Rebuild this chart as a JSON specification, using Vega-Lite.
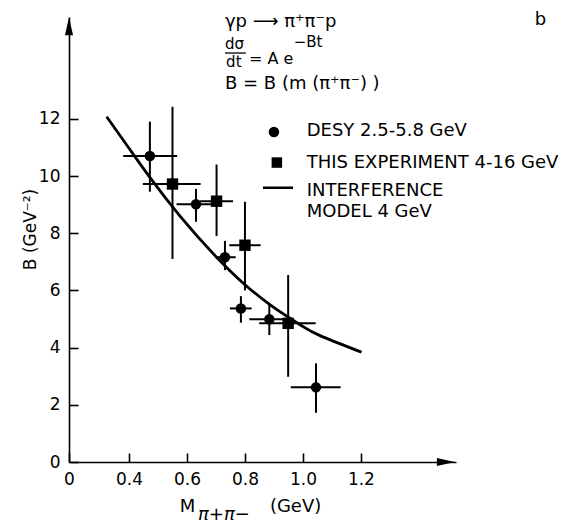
{
  "$schema": "https://vega.github.io/schema/vega-lite/v6.json",
  "width": 387,
  "height": 445,
  "autosize": "none",
  "padding": {"left": 69, "top": 17, "right": 118, "bottom": 61},
  "background": "white",
  "config": {
    "view": {"stroke": null},
    "font": "DejaVu Sans",
    "axis": {"grid": false, "domainColor": "black", "domainWidth": 1.6, "tickColor": "black", "tickWidth": 1.6, "tickSize": -9, "labelPadding": 18, "labelFont": "DejaVu Sans", "labelFontSize": 17, "labelColor": "black", "titleFont": "DejaVu Sans", "titleFontWeight": "normal", "titleColor": "black"}
  },
  "datasets": {
    "pts": [
      {"series": "DESY", "m": 0.472, "B": 10.7, "mlo": 0.38, "mhi": 0.566, "Blo": 9.45, "Bhi": 11.9},
      {"series": "DESY", "m": 0.631, "B": 9.01, "mlo": 0.564, "mhi": 0.70, "Blo": 8.4, "Bhi": 9.55},
      {"series": "DESY", "m": 0.731, "B": 7.16, "mlo": 0.697, "mhi": 0.768, "Blo": 6.71, "Bhi": 7.73},
      {"series": "DESY", "m": 0.786, "B": 5.37, "mlo": 0.748, "mhi": 0.823, "Blo": 4.87, "Bhi": 5.8},
      {"series": "DESY", "m": 0.884, "B": 4.99, "mlo": 0.815, "mhi": 0.95, "Blo": 4.44, "Bhi": 5.49},
      {"series": "DESY", "m": 1.045, "B": 2.61, "mlo": 0.958, "mhi": 1.13, "Blo": 1.72, "Bhi": 3.45},
      {"series": "THIS", "m": 0.55, "B": 9.72, "mlo": 0.448, "mhi": 0.647, "Blo": 7.1, "Bhi": 12.42},
      {"series": "THIS", "m": 0.702, "B": 9.12, "mlo": 0.645, "mhi": 0.759, "Blo": 7.9, "Bhi": 10.4},
      {"series": "THIS", "m": 0.80, "B": 7.58, "mlo": 0.746, "mhi": 0.854, "Blo": 6.0, "Bhi": 9.1},
      {"series": "THIS", "m": 0.949, "B": 4.85, "mlo": 0.849, "mhi": 1.044, "Blo": 2.98, "Bhi": 6.54}
    ],
    "curve": [
      {"m": 0.323, "B": 12.07},
      {"m": 0.40, "B": 10.97},
      {"m": 0.472, "B": 9.95},
      {"m": 0.576, "B": 8.6},
      {"m": 0.703, "B": 7.15},
      {"m": 0.800, "B": 6.2},
      {"m": 0.886, "B": 5.5},
      {"m": 0.944, "B": 5.1},
      {"m": 1.001, "B": 4.73},
      {"m": 1.059, "B": 4.42},
      {"m": 1.202, "B": 3.84}
    ]
  },
  "layer": [
    {
      "data": {"name": "pts"},
      "mark": {"type": "rule", "color": "black", "strokeWidth": 2},
      "encoding": {
        "x": {"field": "mlo", "type": "quantitative",
          "scale": {"domain": [0.193, 1.528], "nice": false, "zero": false},
          "axis": {"values": [0.193, 0.4, 0.6, 0.8, 1.0, 1.2], "labelExpr": "datum.value < 0.3 ? '0' : format(datum.value, '.1f')", "title": null, "labelFlush": false}},
        "x2": {"field": "mhi"},
        "y": {"field": "B", "type": "quantitative",
          "scale": {"domain": [0, 15.56], "nice": false, "zero": false},
          "axis": {"values": [0, 2, 4, 6, 8, 10, 12], "title": "B (GeV⁻²)", "titleFontSize": 17, "titleAngle": -90, "titleX": -39, "titleY": 212, "titleAlign": "center", "titleBaseline": "middle", "labelFlush": false}}
      }
    },
    {
      "data": {"name": "pts"},
      "mark": {"type": "rule", "color": "black", "strokeWidth": 2},
      "encoding": {
        "x": {"field": "m", "type": "quantitative"},
        "y": {"field": "Blo", "type": "quantitative"},
        "y2": {"field": "Bhi"}
      }
    },
    {
      "data": {"name": "pts"},
      "mark": {"type": "point", "filled": true, "color": "black", "opacity": 1},
      "encoding": {
        "x": {"field": "m", "type": "quantitative"},
        "y": {"field": "B", "type": "quantitative"},
        "shape": {"field": "series", "type": "nominal", "scale": {"domain": ["DESY", "THIS"], "range": ["circle", "square"]}, "legend": null},
        "size": {"field": "series", "type": "nominal", "scale": {"domain": ["DESY", "THIS"], "range": [110, 130]}, "legend": null}
      }
    },
    {
      "data": {"name": "curve"},
      "mark": {"type": "line", "color": "black", "strokeWidth": 2.8, "interpolate": "natural"},
      "encoding": {
        "x": {"field": "m", "type": "quantitative"},
        "y": {"field": "B", "type": "quantitative"}
      }
    },
    {
      "data": {"values": [{"m": 0.90, "B": 11.54, "s": "DESY"}, {"m": 0.91, "B": 10.47, "s": "THIS"}]},
      "mark": {"type": "point", "filled": true, "color": "black", "opacity": 1},
      "encoding": {
        "x": {"field": "m", "type": "quantitative"},
        "y": {"field": "B", "type": "quantitative"},
        "shape": {"field": "s", "type": "nominal", "scale": {"domain": ["DESY", "THIS"], "range": ["circle", "square"]}, "legend": null},
        "size": {"value": 110}
      }
    },
    {
      "data": {"values": [{"m": 0.862, "m2": 0.966, "B": 9.59}]},
      "mark": {"type": "rule", "color": "black", "strokeWidth": 2.5},
      "encoding": {
        "x": {"field": "m", "type": "quantitative"},
        "x2": {"field": "m2"},
        "y": {"field": "B", "type": "quantitative"}
      }
    },
    {
      "data": {"values": [
        {"m": 1.013, "B": 11.57, "t": "DESY 2.5-5.8 GeV"},
        {"m": 1.013, "B": 10.45, "t": "THIS EXPERIMENT 4-16 GeV"},
        {"m": 1.013, "B": 9.48, "t": "INTERFERENCE"},
        {"m": 1.013, "B": 8.75, "t": "MODEL  4 GeV"}
      ]},
      "mark": {"type": "text", "align": "left", "baseline": "middle", "fontSize": 18, "color": "black", "font": "DejaVu Sans"},
      "encoding": {
        "x": {"field": "m", "type": "quantitative"},
        "y": {"field": "B", "type": "quantitative"},
        "text": {"field": "t"}
      }
    },
    {
      "data": {"values": [
        {"m": 0.731, "B": 15.38, "t": "γp ⟶ π⁺π⁻p"},
        {"m": 1.80, "B": 15.45, "t": "b"},
        {"m": 0.731, "B": 13.22, "t": "B = B (m (π⁺π⁻) )"}
      ]},
      "mark": {"type": "text", "align": "left", "baseline": "middle", "fontSize": 18, "color": "black", "font": "DejaVu Sans"},
      "encoding": {
        "x": {"field": "m", "type": "quantitative"},
        "y": {"field": "B", "type": "quantitative"},
        "text": {"field": "t"}
      }
    },
    {
      "data": {"values": [{"m": 0.814, "B": 14.08, "t": "= A e"}]},
      "mark": {"type": "text", "align": "left", "baseline": "middle", "fontSize": 16, "color": "black", "font": "DejaVu Sans"},
      "encoding": {
        "x": {"field": "m", "type": "quantitative"},
        "y": {"field": "B", "type": "quantitative"},
        "text": {"field": "t"}
      }
    },
    {
      "data": {"values": [
        {"m": 0.731, "B": 14.63, "t": "dσ"},
        {"m": 0.735, "B": 13.97, "t": "dt"}
      ]},
      "mark": {"type": "text", "align": "left", "baseline": "middle", "fontSize": 15, "color": "black", "font": "DejaVu Sans"},
      "encoding": {
        "x": {"field": "m", "type": "quantitative"},
        "y": {"field": "B", "type": "quantitative"},
        "text": {"field": "t"}
      }
    },
    {
      "data": {"values": [{"m": 0.968, "B": 14.7, "t": "−Bt"}]},
      "mark": {"type": "text", "align": "left", "baseline": "middle", "fontSize": 15, "color": "black", "font": "DejaVu Sans"},
      "encoding": {
        "x": {"field": "m", "type": "quantitative"},
        "y": {"field": "B", "type": "quantitative"},
        "text": {"field": "t"}
      }
    },
    {
      "data": {"values": [{"m": 0.731, "m2": 0.803, "B": 14.3}]},
      "mark": {"type": "rule", "color": "black", "strokeWidth": 1.3},
      "encoding": {
        "x": {"field": "m", "type": "quantitative"},
        "x2": {"field": "m2"},
        "y": {"field": "B", "type": "quantitative"}
      }
    },
    {
      "data": {"values": [
        {"m": 0.575, "B": -1.58, "t": "M"},
        {"m": 0.886, "B": -1.58, "t": "(GeV)"}
      ]},
      "mark": {"type": "text", "align": "left", "baseline": "middle", "fontSize": 18, "color": "black", "font": "DejaVu Sans"},
      "encoding": {
        "x": {"field": "m", "type": "quantitative"},
        "y": {"field": "B", "type": "quantitative"},
        "text": {"field": "t"}
      }
    },
    {
      "data": {"values": [{"m": 0.638, "B": -1.85, "t": "π+π−"}]},
      "mark": {"type": "text", "align": "left", "baseline": "middle", "fontSize": 18, "fontStyle": "italic", "color": "black", "font": "DejaVu Sans"},
      "encoding": {
        "x": {"field": "m", "type": "quantitative"},
        "y": {"field": "B", "type": "quantitative"},
        "text": {"field": "t"}
      }
    },
    {
      "data": {"values": [{"m": 0.193, "B": 15.24}]},
      "mark": {"type": "point", "filled": true, "color": "black", "opacity": 1, "shape": "M0,-1L0.45,1L-0.45,1Z", "size": 324},
      "encoding": {
        "x": {"field": "m", "type": "quantitative"},
        "y": {"field": "B", "type": "quantitative"}
      }
    },
    {
      "data": {"values": [{"m": 1.493, "B": 0}]},
      "mark": {"type": "point", "filled": true, "color": "black", "opacity": 1, "shape": "M1,0L-1,0.45L-1,-0.45Z", "size": 324},
      "encoding": {
        "x": {"field": "m", "type": "quantitative"},
        "y": {"field": "B", "type": "quantitative"}
      }
    }
  ]
}
